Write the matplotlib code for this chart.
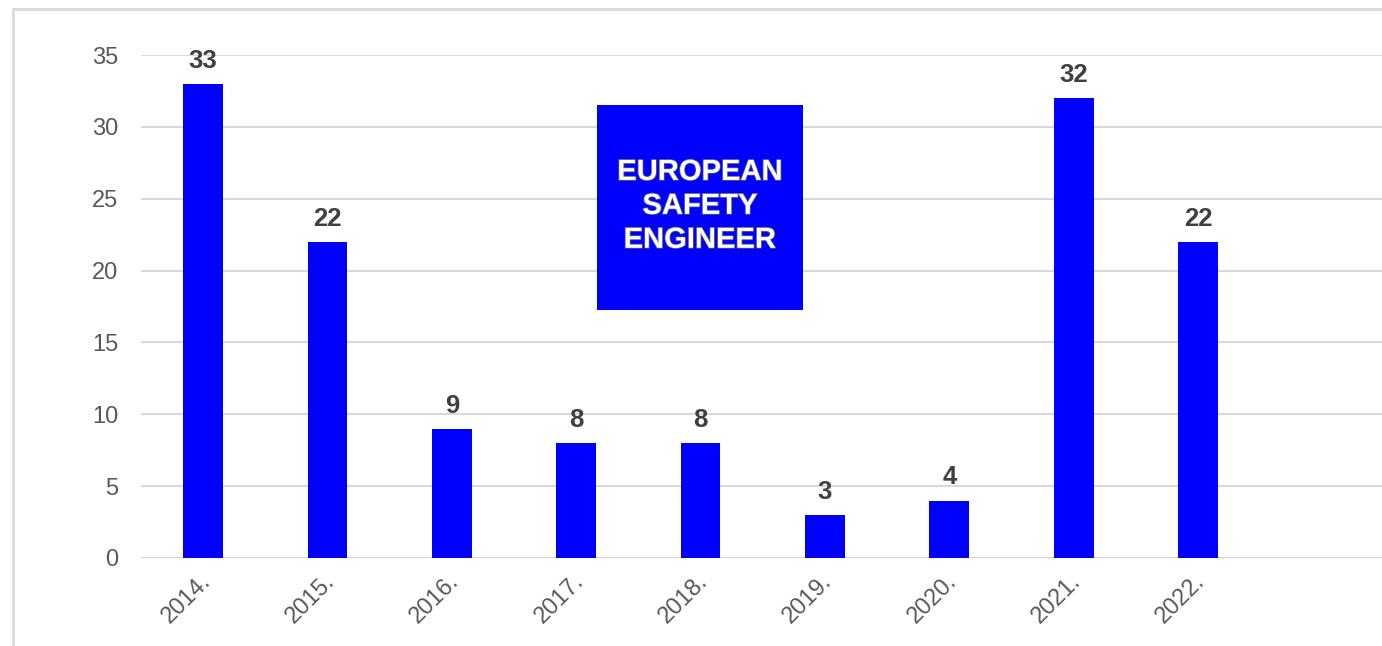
import matplotlib
matplotlib.use("Agg")
import matplotlib.pyplot as plt
from matplotlib.patches import Rectangle
from matplotlib.lines import Line2D
import matplotlib.patheffects as pe

years = ["2014.", "2015.", "2016.", "2017.", "2018.", "2019.", "2020.", "2021.", "2022."]
values = [33, 22, 9, 8, 8, 3, 4, 32, 22]
yticks = [0, 5, 10, 15, 20, 25, 30, 35]
box_lines = ["EUROPEAN", "SAFETY", "ENGINEER"]

plt.rcParams['font.family'] = ['Liberation Sans', 'DejaVu Sans']

fig = plt.figure(figsize=(13.82, 6.46), dpi=100)
ax = fig.add_axes([141/1382, 88/646, 1241/1382, 503/646])

x = list(range(len(years)))
bars = ax.bar(x, values, width=0.32, color='#0000FF', zorder=3)
for xi, v in zip(x, values):
    ax.annotate(str(v), (xi, v), xytext=(0, 8), textcoords='offset points',
                ha='center', va='bottom', fontsize=18.5, fontweight='bold', color='#404040')

ax.set_xlim(-0.5, 9.48)
ax.set_ylim(0, 35)
ax.set_yticks(yticks)
ax.set_yticklabels([str(t) for t in yticks], fontsize=17, color='#595959')
ax.set_xticks(x)
ax.set_xticklabels(years, rotation=45, ha='right', rotation_mode='anchor',
                   fontsize=17, color='#595959')
ax.tick_params(axis='both', length=0)
ax.tick_params(axis='y', pad=16.5)
ax.tick_params(axis='x', pad=9)
for lab in ax.get_xticklabels():
    lab.set_transform(lab.get_transform() + matplotlib.transforms.ScaledTranslation(-4/100, 0, fig.dpi_scale_trans))
ax.grid(axis='y', color='#d9d9d9', linewidth=1.5, zorder=0)
for s in ax.spines.values():
    s.set_visible(False)
ax.axhline(0, color='#d0d0d0', linewidth=1.8, zorder=2)

ax.add_patch(Rectangle((0.3674, 0.493), 0.166, 0.4076, transform=ax.transAxes,
                       facecolor='#0000FF', edgecolor='none', zorder=4))
ax.text(0.4504, 0.700, "\n".join(box_lines), transform=ax.transAxes, ha='center', va='center',
        fontsize=21, fontweight='bold', color='white', linespacing=1.27, zorder=5,
        path_effects=[pe.withStroke(linewidth=1.2, foreground='#55558a')])

fig.add_artist(Line2D([13/1382, 13/1382], [0, 1 - 9/646], transform=fig.transFigure,
                      color='#d9d9d9', linewidth=2))
fig.add_artist(Line2D([13/1382, 1], [1 - 9/646, 1 - 9/646], transform=fig.transFigure,
                      color='#d9d9d9', linewidth=2))

fig.savefig("out.png", dpi=100, facecolor='white')
